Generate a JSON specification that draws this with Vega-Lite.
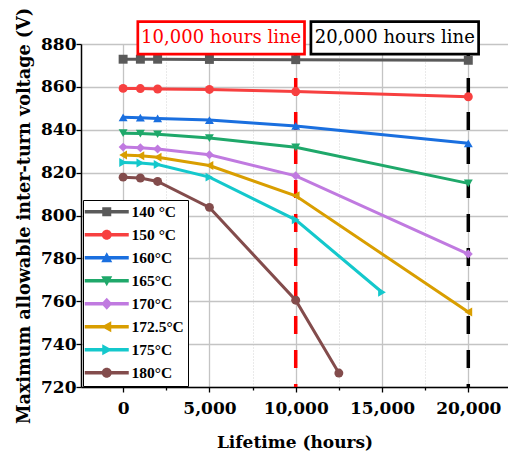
{
  "$schema": "https://vega.github.io/schema/vega-lite/v6.json",
  "width": 427,
  "height": 343,
  "autosize": {"type": "none"},
  "padding": {"left": 81, "top": 44, "right": 0, "bottom": 70},
  "background": "white",
  "config": {"view": {"stroke": null}, "font": "DejaVu Serif"},
  "resolve": {"scale": {"color": "independent", "shape": "independent"}},
  "datasets": {
    "series": [
      {"T": "140 °C", "h": 0, "v": 872.9}, {"T": "140 °C", "h": 1000, "v": 872.9}, {"T": "140 °C", "h": 2000, "v": 872.9}, {"T": "140 °C", "h": 5000, "v": 872.8}, {"T": "140 °C", "h": 10000, "v": 872.7}, {"T": "140 °C", "h": 20000, "v": 872.4},
      {"T": "150 °C", "h": 0, "v": 859.3}, {"T": "150 °C", "h": 1000, "v": 859.2}, {"T": "150 °C", "h": 2000, "v": 859.0}, {"T": "150 °C", "h": 5000, "v": 858.8}, {"T": "150 °C", "h": 10000, "v": 857.8}, {"T": "150 °C", "h": 20000, "v": 855.4},
      {"T": "160°C", "h": 0, "v": 845.8}, {"T": "160°C", "h": 1000, "v": 845.6}, {"T": "160°C", "h": 2000, "v": 845.3}, {"T": "160°C", "h": 5000, "v": 844.5}, {"T": "160°C", "h": 10000, "v": 841.8}, {"T": "160°C", "h": 20000, "v": 833.7},
      {"T": "165°C", "h": 0, "v": 838.4}, {"T": "165°C", "h": 1000, "v": 838.2}, {"T": "165°C", "h": 2000, "v": 837.9}, {"T": "165°C", "h": 5000, "v": 836.1}, {"T": "165°C", "h": 10000, "v": 831.8}, {"T": "165°C", "h": 20000, "v": 815.0},
      {"T": "170°C", "h": 0, "v": 831.9}, {"T": "170°C", "h": 1000, "v": 831.6}, {"T": "170°C", "h": 2000, "v": 831.0}, {"T": "170°C", "h": 5000, "v": 828.3}, {"T": "170°C", "h": 10000, "v": 818.5}, {"T": "170°C", "h": 20000, "v": 782.0},
      {"T": "172.5°C", "h": 0, "v": 828.2}, {"T": "172.5°C", "h": 1000, "v": 827.9}, {"T": "172.5°C", "h": 2000, "v": 827.2}, {"T": "172.5°C", "h": 5000, "v": 823.3}, {"T": "172.5°C", "h": 10000, "v": 809.2}, {"T": "172.5°C", "h": 20000, "v": 755.0},
      {"T": "175°C", "h": 0, "v": 824.7}, {"T": "175°C", "h": 1000, "v": 824.5}, {"T": "175°C", "h": 2000, "v": 823.8}, {"T": "175°C", "h": 5000, "v": 817.9}, {"T": "175°C", "h": 10000, "v": 798.0}, {"T": "175°C", "h": 15000, "v": 764.2},
      {"T": "180°C", "h": 0, "v": 817.9}, {"T": "180°C", "h": 1000, "v": 817.5}, {"T": "180°C", "h": 2000, "v": 815.9}, {"T": "180°C", "h": 5000, "v": 803.8}, {"T": "180°C", "h": 10000, "v": 760.5}, {"T": "180°C", "h": 12500, "v": 726.5}
    ]
  },
  "layer": [
    {
      "data": {"values": [{"hours": 10000}]},
      "mark": {"type": "rule", "color": "#ff0000", "strokeWidth": 3.5, "strokeDash": [18, 16]},
      "encoding": {"x": {"field": "hours", "type": "quantitative", "scale": {"domain": [-2440, 22300], "nice": false, "zero": false},
          "axis": {
            "title": "Lifetime (hours)",
            "values": [0, 2500, 5000, 7500, 10000, 12500, 15000, 17500, 20000],
            "labelExpr": "datum.value % 5000 === 0 ? format(datum.value, ',') : ''",
            "grid": true,
            "gridColor": {"condition": {"test": "datum.value % 5000 === 0", "value": "#c4c4c4"}, "value": "#d4d4d4"},
            "gridDash": {"condition": {"test": "datum.value % 5000 === 0", "value": []}, "value": [1, 2]},
            "gridWidth": {"condition": {"test": "datum.value % 5000 === 0", "value": 1.3}, "value": 1},
            "tickSize": {"condition": {"test": "datum.value % 5000 === 0", "value": 5}, "value": 3},
            "tickColor": "black", "tickWidth": 1.3,
            "domainColor": "black", "domainWidth": 1.5,
            "labelFont": "DejaVu Serif", "labelFontWeight": "bold", "labelFontSize": 17, "labelColor": "black", "labelPadding": 8,
            "titleFont": "DejaVu Serif", "titleFontWeight": "bold", "titleFontSize": 17, "titleColor": "black", "titlePadding": 18
          }}}
    },
    {
      "data": {"values": [{"hours": 20000}]},
      "mark": {"type": "rule", "color": "#000000", "strokeWidth": 3.5, "strokeDash": [18, 16]},
      "encoding": {"x": {"field": "hours", "type": "quantitative"}}
    },
    {
      "data": {"name": "series"},
      "mark": {"type": "line", "strokeWidth": 3},
      "encoding": {
        "x": {"field": "h", "type": "quantitative"},
        "y": {
          "field": "v", "type": "quantitative",
          "scale": {"domain": [720, 880], "nice": false, "zero": false},
          "axis": {
            "title": "Maximum allowable inter-turn voltage (V)",
            "values": [720, 730, 740, 750, 760, 770, 780, 790, 800, 810, 820, 830, 840, 850, 860, 870, 880],
            "labelExpr": "datum.value % 20 === 0 ? datum.label : ''",
            "grid": true,
            "gridColor": {"condition": {"test": "datum.value % 20 === 0", "value": "#c4c4c4"}, "value": "#d4d4d4"},
            "gridDash": {"condition": {"test": "datum.value % 20 === 0", "value": []}, "value": [1, 2]},
            "gridWidth": {"condition": {"test": "datum.value % 20 === 0", "value": 1.3}, "value": 1},
            "tickSize": {"condition": {"test": "datum.value % 20 === 0", "value": 5}, "value": 3},
            "tickColor": "black", "tickWidth": 1.3,
            "domainColor": "black", "domainWidth": 1.5,
            "labelFont": "DejaVu Serif", "labelFontWeight": "bold", "labelFontSize": 17, "labelColor": "black", "labelPadding": 0,
            "titleFont": "DejaVu Serif", "titleFontWeight": "bold", "titleFontSize": 17.6, "titleColor": "black", "titlePadding": 7
          }
        },
        "color": {
          "field": "T", "type": "nominal",
          "scale": {
            "domain": ["140 °C", "150 °C", "160°C", "165°C", "170°C", "172.5°C", "175°C", "180°C"],
            "range": ["#5a5a5a", "#f74040", "#1a6fdf", "#1fa86a", "#c07ae0", "#d99e00", "#14c8cc", "#834c4c"]
          },
          "legend": null
        }
      }
    },
    {
      "data": {"name": "series"},
      "mark": {"type": "point", "filled": true, "size": 80, "opacity": 1},
      "encoding": {
        "x": {"field": "h", "type": "quantitative"},
        "y": {"field": "v", "type": "quantitative"},
        "color": {
          "field": "T", "type": "nominal",
          "scale": {
            "domain": ["140 °C", "150 °C", "160°C", "165°C", "170°C", "172.5°C", "175°C", "180°C"],
            "range": ["#5a5a5a", "#f74040", "#1a6fdf", "#1fa86a", "#c07ae0", "#d99e00", "#14c8cc", "#834c4c"]
          },
          "legend": null
        },
        "shape": {
          "field": "T", "type": "nominal",
          "scale": {
            "domain": ["140 °C", "150 °C", "160°C", "165°C", "170°C", "172.5°C", "175°C", "180°C"],
            "range": ["square", "circle", "triangle-up", "triangle-down", "diamond", "triangle-left", "triangle-right", "circle"]
          },
          "legend": null
        }
      }
    },
    {
      "data": {"name": "series"},
      "mark": {"type": "point", "filled": true, "size": 100, "opacity": 0},
      "encoding": {
        "x": {"field": "h", "type": "quantitative"},
        "y": {"field": "v", "type": "quantitative"},
        "color": {
          "field": "T", "type": "nominal",
          "scale": {
            "domain": ["140 °C", "150 °C", "160°C", "165°C", "170°C", "172.5°C", "175°C", "180°C"],
            "range": ["#5a5a5a", "#f74040", "#1a6fdf", "#1fa86a", "#c07ae0", "#d99e00", "#14c8cc", "#834c4c"]
          },
          "legend": {
            "title": null, "orient": "none", "legendX": 2, "legendY": 156,
            "strokeColor": "black", "fillColor": "white", "padding": 4,
            "symbolSize": 100, "symbolStrokeWidth": 0, "symbolOpacity": 1, "symbolOffset": 12,
            "labelFont": "Liberation Serif", "labelFontWeight": "bold", "labelFontSize": 15.5, "labelColor": "black", "labelOffset": 17,
            "rowPadding": 6
          }
        },
        "shape": {
          "field": "T", "type": "nominal",
          "scale": {
            "domain": ["140 °C", "150 °C", "160°C", "165°C", "170°C", "172.5°C", "175°C", "180°C"],
            "range": [
              "M-4.4,-0.35H4.4V0.35H-4.4Z M-0.9,-0.9H0.9V0.9H-0.9Z",
              "M-4.4,-0.35H4.4V0.35H-4.4Z M-1,0a1,1 0 1,1 2,0a1,1 0 1,1 -2,0Z",
              "M-4.4,-0.35H4.4V0.35H-4.4Z M0,-1.1L1.1,0.9H-1.1Z",
              "M-4.4,-0.35H4.4V0.35H-4.4Z M0,1.1L-1.1,-0.9H1.1Z",
              "M-4.4,-0.35H4.4V0.35H-4.4Z M0,-1.2L1.1,0L0,1.2L-1.1,0Z",
              "M-4.4,-0.35H4.4V0.35H-4.4Z M-1.1,0L0.9,-1.1V1.1Z",
              "M-4.4,-0.35H4.4V0.35H-4.4Z M1.1,0L-0.9,1.1V-1.1Z",
              "M-4.4,-0.35H4.4V0.35H-4.4Z M-1,0a1,1 0 1,1 2,0a1,1 0 1,1 -2,0Z"
            ]
          },
          "legend": {
            "title": null, "orient": "none", "legendX": 2, "legendY": 156,
            "strokeColor": "black", "fillColor": "white", "padding": 4,
            "symbolSize": 100, "symbolStrokeWidth": 0, "symbolOpacity": 1, "symbolOffset": 12,
            "labelFont": "Liberation Serif", "labelFontWeight": "bold", "labelFontSize": 15.5, "labelColor": "black", "labelOffset": 17,
            "rowPadding": 6
          }
        }
      }
    },
    {
      "data": {"values": [{"label": "10,000 hours line"}]},
      "mark": {"type": "rect", "fill": "white", "stroke": "#ff0000", "strokeWidth": 2.7},
      "encoding": {
        "x": {"datum": 852, "type": "quantitative"},
        "x2": {"datum": 10510},
        "y": {"datum": 890.4, "type": "quantitative"},
        "y2": {"datum": 875.3}
      }
    },
    {
      "data": {"values": [{"label": "20,000 hours line"}]},
      "mark": {"type": "rect", "fill": "white", "stroke": "#000000", "strokeWidth": 2.7},
      "encoding": {
        "x": {"datum": 10881, "type": "quantitative"},
        "x2": {"datum": 20597},
        "y": {"datum": 890.4, "type": "quantitative"},
        "y2": {"datum": 875.3}
      }
    },
    {
      "data": {"values": [{"label": "10,000 hours line"}]},
      "mark": {"type": "text", "color": "#ff0000", "font": "DejaVu Serif", "fontSize": 18, "baseline": "middle", "align": "center"},
      "encoding": {
        "x": {"datum": 5680, "type": "quantitative"},
        "y": {"datum": 883.0, "type": "quantitative"},
        "text": {"field": "label"}
      }
    },
    {
      "data": {"values": [{"label": "20,000 hours line"}]},
      "mark": {"type": "text", "color": "#000000", "font": "DejaVu Serif", "fontSize": 18, "baseline": "middle", "align": "center"},
      "encoding": {
        "x": {"datum": 15740, "type": "quantitative"},
        "y": {"datum": 883.0, "type": "quantitative"},
        "text": {"field": "label"}
      }
    }
  ]
}
